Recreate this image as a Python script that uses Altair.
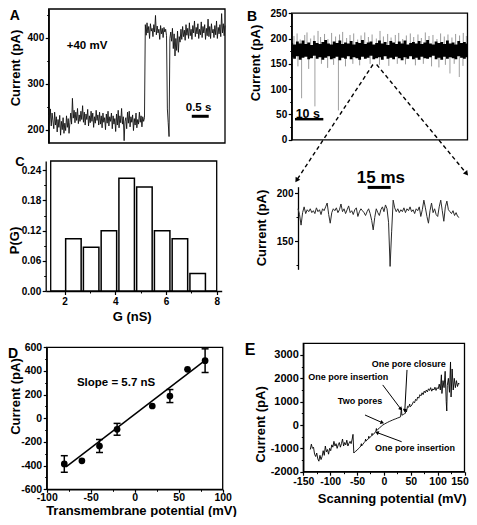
import altair as alt
import pandas as pd

FONT = "Liberation Sans"
W, H = 461, 509

# ======================= DATA =======================
# A: current record at +40 mV (pA), sampled every 0.025 s
a_t0, a_dt = 0.0, 0.025
a_current = [232, 214, 245, 208, 236, 219, 202, 238, 210, 228, 195, 222, 205, 231, 188, 218, 200, 226, 192, 214,
             198, 230, 205, 224, 192, 215, 236, 212, 268, 225, 242, 215, 238, 220, 246, 213, 232, 218, 240, 222,
             252, 216, 238, 210, 234, 222, 244, 208, 230, 215, 240, 218, 236, 205, 228, 214, 242, 220, 232, 210,
             238, 212, 230, 204, 236, 216, 226, 200, 234, 214, 240, 208, 228, 218, 236, 202, 230, 212, 224, 196,
             234, 210, 242, 204, 230, 215, 246, 212, 228, 176, 218, 226, 202, 238, 214, 240, 206, 228, 216, 232,
             198, 224, 210, 236, 204, 222, 212, 238, 216, 230, 206, 228, 218, 226,
             428, 405, 432, 410, 424, 398, 430, 414, 420, 402, 428, 412, 448, 406, 425, 410, 418, 396, 426, 408,
             420, 400, 422, 412, 418, 404,
             245, 215, 185, 398,
             412, 392, 420, 376, 408, 360, 398, 372, 414, 368, 402, 390, 418, 396, 424, 402, 416, 394, 428, 405,
             420, 398, 432, 404, 418, 396, 426, 410, 436, 402, 422, 408, 430, 398, 418, 406, 434, 400, 424, 410,
             428, 396, 420, 404, 440, 402, 424, 398, 430, 410, 418, 400, 426, 406, 436, 398, 422, 408, 428, 402,
             452, 410, 430, 404, 426]

# B: long record (s, pA)
b_band_t = list(range(0, 63))
b_band_hi = [191, 188, 194, 190, 196, 189, 192, 187, 195, 191, 189, 193, 197, 190, 188, 194, 191, 196, 189, 192,
             190, 195, 188, 193, 191, 197, 189, 192, 194, 188, 191, 196, 190, 193, 187, 195, 192, 189, 194, 190,
             196, 188, 191, 193, 190, 195, 189, 192, 197, 190, 188, 194, 191, 193, 189, 196, 190, 192, 188, 195,
             191, 193, 190]
b_band_lo = [163, 160, 165, 158, 162, 164, 159, 161, 166, 160, 163, 158, 162, 165, 159, 161, 164, 157, 162, 160,
             165, 159, 163, 161, 158, 164, 160, 162, 166, 159, 161, 163, 158, 165, 160, 162, 159, 164, 161, 157,
             163, 160, 165, 159, 162, 158, 164, 161, 160, 163, 166, 159, 162, 158, 164, 160, 163, 161, 159, 165,
             162, 160, 163]
b_up_t = [0.8, 1.9, 3.0, 4.6, 5.4, 6.7, 7.9, 9.3, 10.2, 11.6, 12.8, 14.1, 15.5, 16.9, 18.0, 19.4,
          20.6, 21.9, 23.3, 24.5, 25.8, 27.1, 28.4, 29.9, 31.2, 32.4, 33.9, 35.1, 36.6, 37.8, 39.2, 40.5,
          41.9, 43.1, 44.6, 45.8, 47.2, 48.5, 49.9, 51.3, 52.6, 53.9, 55.2, 56.6, 57.9, 59.3, 60.6, 61.7]
b_up_v = [205, 210, 198, 207, 212, 200, 206, 215, 203, 209, 199, 211, 204, 208, 213, 201,
          207, 210, 198, 206, 212, 203, 208, 200, 215, 204, 209, 202, 207, 211, 199, 206,
          210, 203, 208, 201, 212, 205, 207, 199, 210, 204, 208, 202, 209, 206, 211, 205]
b_dn_t = [2.2, 6.0, 10.5, 12.7, 14.8, 19.0, 21.6, 24.0, 27.7, 31.0, 34.3, 37.3, 40.2, 43.7, 46.5,
          49.4, 52.0, 54.3, 57.4, 60.5]
b_dn_v = [145, 140, 150, 142, 148, 145, 150, 147, 150, 148, 146, 150, 149, 147, 150,
          145, 143, 148, 150, 146]
b_long_t = [3.5, 8.2, 16.5, 55.9, 59.2]
b_long_v = [82, 66, 58, 131, 124]

# B (expanded): 1 ms sampling
b2_dt = 1.0
b2_current = [184, 178, 167, 180, 186, 179, 183, 181, 184, 180, 182, 179, 185, 181, 183, 178, 184, 182, 186, 190,
              178, 169, 180, 184, 182, 185, 180, 183, 189, 181, 184, 179, 183, 187, 180, 182, 178, 183, 185, 176,
              181, 184, 182, 180, 177, 181, 184, 179, 172, 162, 175, 184, 180, 177, 183, 186, 181, 188, 184, 170,
              124, 160, 193, 185, 181, 184, 180, 183, 181, 185, 180, 184, 182, 186, 181, 183, 179, 184, 182, 186,
              176, 183, 193, 185, 176, 169, 182, 190, 180, 184, 178, 176, 186, 193, 182, 171, 186, 192, 183, 181,
              179, 182, 177, 180, 176, 175]

# C: conductance histogram
c_g = [2.35, 3.05, 3.75, 4.45, 5.15, 5.85, 6.55, 7.25]
c_p = [0.104, 0.087, 0.120, 0.224, 0.207, 0.120, 0.104, 0.035]

# D: I-V relation
d_v = [-80, -60, -40, -20, 20, 40, 60, 80]
d_i = [-386, -359, -234, -93, 104, 188, 414, 487]
d_err = [70, 0, 55, 50, 0, 55, 0, 100]
d_fit_v = [-78, 80]
d_fit_i = [-411, 490]

# E: voltage ramp
e_mv = [-137, -135, -133, -131, -129, -127, -125, -123, -121, -119, -117, -115, -113, -111, -109, -107,
        -105, -103, -101, -99, -97, -95, -93, -91, -89, -87, -85, -83, -81, -79, -77, -75, -73, -71, -69,
        -67, -65, -63, -61, -59, -57.5, -56,
        -53, -50, -47, -45, -43, -42, -41.5, -39, -37, -35, -34, -33.5, -31, -29, -28, -27.5, -25, -23, -22,
        -21.5, -19, -17, -15, -14, -13.5, -11, -8, -5, -2, 1, 4, 7, 10, 13, 16, 19, 22, 25, 28, 31, 32.5,
        33.5, 36, 38, 40, 41, 42, 44, 46, 48, 49, 51, 53, 55, 57, 59, 61, 63, 65, 67, 69, 71, 73, 75, 77,
        79, 81, 83, 85, 87, 89, 91, 93, 95, 97, 99, 101, 103, 105, 107, 108, 110, 112, 114, 116, 117, 118,
        120, 122, 124, 125, 127, 129, 131, 133, 135, 137, 139, 140]
e_pa = [-1050, -820, -1000, -950, -1250, -1350, -1200, -1450, -1550, -1300, -1480, -1350, -1100, -1300, -900,
        -1150, -1050, -1250, -1000, -1100, -850, -950, -700, -900, -800, -1000, -850, -750, -950, -800, -600,
        -900, -750, -850, -650, -900, -780, -700, -800, -600, -400, -1200,
        -1130, -1080, -1000, -960, -900, -800, -900, -820, -760, -700, -600, -690, -640, -590, -480, -570,
        -510, -460, -360, -440, -390, -330, -270, -150, -240, -180, -120, -60, 0, 40, 80, 115, 150, 180, 210,
        240, 265, 295, 320, 350, 720, 420, 450, 480, 500, 640, 560, 800, 760, 900, 780, 820, 900, 1000, 950,
        1100, 1050, 1200, 1150, 1300, 1250, 1380, 1300, 1450, 1380, 1500, 1420, 1550, 1480, 1600, 1450, 1550,
        1500, 1620, 1480, 1600, 1550, 1750, 1500, 2150, 1350, 1900, 1600, 2300, 1000, 600, 1700, 2000, 1400,
        2700, 1200, 2400, 1500, 2000, 1600, 1900, 1650, 1800, 1750]
e_notes = ["One pore closure", "One pore insertion", "Two pores", "One pore insertion"]


# ======================= HELPERS =======================
def sc(dom, rng):
    return alt.Scale(domain=dom, range=rng, nice=False, zero=False)


def major_axis(orient, values, offset, title, tx, ty, lsize=10, tsize=13, fmt=None,
               nudge_value=None, nudge=0, tick=3.5, lpad=1.5):
    kw = dict(orient=orient, values=values, offset=offset, grid=False,
              domain=True, domainColor="black", domainWidth=1.3,
              ticks=True, tickSize=tick, tickWidth=1.2, tickColor="black",
              labels=True, labelFont=FONT, labelFontSize=lsize, labelFontWeight="bold",
              labelColor="black", labelPadding=lpad, labelOverlap=False, labelFlush=False,
              title=title, titleX=tx, titleY=ty, titleFont=FONT, titleFontSize=tsize,
              titleFontWeight="bold", titleColor="black", titleAlign="center",
              titleBaseline="middle", titleAngle=270 if orient == "left" else 0)
    if fmt:
        kw["format"] = fmt
    else:
        kw["labelExpr"] = "'' + datum.value"
    if nudge_value is not None:
        kw["labelOffset"] = {"condition": {"test": f"datum.value == {nudge_value}", "value": nudge},
                             "value": 0}
    return alt.Axis(**kw)


def minor_axis(orient, values, offset):
    return alt.Axis(orient=orient, values=values, offset=offset, grid=False, domain=False,
                    labels=False, ticks=True, tickSize=2, tickWidth=1.0, tickColor="black",
                    title=None)


def frame(xdom, ydom, xs, ys, xaxis=None, yaxis=None, visible=True):
    return alt.Chart(pd.DataFrame({"k": [0]})).mark_rect(
        filled=False, color="black", strokeWidth=1.3, opacity=1 if visible else 0
    ).encode(
        x=alt.XDatum(xdom[0], scale=xs, axis=xaxis, type="quantitative"),
        x2=alt.X2Datum(xdom[1]),
        y=alt.YDatum(ydom[0], scale=ys, axis=yaxis, type="quantitative"),
        y2=alt.Y2Datum(ydom[1]),
    )


def texts(xv, yv, labels, xs, ys, size, align="center"):
    df = pd.DataFrame({"x": xv, "y": yv, "label": labels})
    return alt.Chart(df).mark_text(font=FONT, fontSize=size, fontWeight="bold", align=align,
                                   baseline="middle", color="black").encode(
        x=alt.X("x", type="quantitative", scale=xs, axis=None),
        y=alt.Y("y", type="quantitative", scale=ys, axis=None),
        text="label:N")


def hbar(x0, x1, y, xs, ys, width):
    df = pd.DataFrame({"x": [x0], "x2": [x1], "y": [y]})
    return alt.Chart(df).mark_rule(color="black", strokeWidth=width).encode(
        x=alt.X("x", type="quantitative", scale=xs, axis=None), x2="x2",
        y=alt.Y("y", type="quantitative", scale=ys, axis=None))


def arrows(x0, y0, x1, y1, ang, xs, ys, width, head, dash=None):
    df = pd.DataFrame({"x": x0, "y": y0, "x2": x1, "y2": y1, "ang": ang})
    kw = dict(color="black", strokeWidth=width)
    if dash:
        kw["strokeDash"] = dash
    lines = alt.Chart(df).mark_rule(**kw).encode(
        x=alt.X("x", type="quantitative", scale=xs, axis=None), x2="x2",
        y=alt.Y("y", type="quantitative", scale=ys, axis=None), y2="y2")
    heads = alt.Chart(df).mark_point(shape="triangle", filled=True, size=head, color="black",
                                     opacity=1).encode(
        x=alt.X("x2", type="quantitative", scale=xs, axis=None),
        y=alt.Y("y2", type="quantitative", scale=ys, axis=None),
        angle=alt.Angle("ang", type="quantitative", scale=None))
    return [lines, heads]


# ======================= PANEL A =======================
AXD, AYD = [0, 5.2], [171, 462]
AX, AY = sc(AXD, [40.7, 217]), sc(AYD, [135, 1])
a_df = pd.DataFrame({"t": [a_t0 + i * a_dt for i in range(len(a_current))], "i": a_current})
a_trace = alt.Chart(a_df).mark_line(color="#111111", strokeWidth=0.9).encode(
    x=alt.X("t", type="quantitative", scale=AX, axis=None),
    y=alt.Y("i", type="quantitative", scale=AY,
            axis=major_axis("left", [200, 300, 400], -40.7, "Current (pA)", -33.7, 59.5)))
panelA = alt.layer(
    frame(AXD, AYD, AX, AY, None, minor_axis("left", [250, 350, 450], -40.7)),
    a_trace,
    texts([1.13, 4.42], [382, 248], ["+40 mV", "0.5 s"], AX, AY, 11.5),
    texts([-0.996], [446.8], ["A"], AX, AY, 14),
    hbar(4.22, 4.72, 229, AX, AY, 3),
).resolve_axis(y="independent")

# ======================= PANEL B =======================
BXD, BYD = [0, 62.1], [0, 250]
BX, BY = sc(BXD, [283.7, 459.5]), sc(BYD, [131.8, 5.2])
spk_up = pd.DataFrame({"t": b_up_t, "v": b_up_v, "b": [176] * len(b_up_t)})
spk_dn = pd.DataFrame({"t": b_dn_t, "v": b_dn_v, "b": [170] * len(b_dn_t)})
spk_long = pd.DataFrame({"t": b_long_t, "v": b_long_v, "b": [165] * len(b_long_t)})


def spikes(df, color, width):
    return alt.Chart(df).mark_rule(color=color, strokeWidth=width).encode(
        x=alt.X("t", type="quantitative", scale=BX, axis=None),
        y=alt.Y("b", type="quantitative", scale=BY, axis=None), y2="v")


band = alt.Chart(pd.DataFrame({"t": b_band_t, "lo": b_band_lo, "hi": b_band_hi})).mark_area(
    color="black", opacity=1, interpolate="step").encode(
    x=alt.X("t", type="quantitative", scale=BX, axis=None),
    y=alt.Y("lo", type="quantitative", scale=BY,
            axis=major_axis("left", [0, 50, 100, 150, 200, 250], -283.7, "Current (pA)", -36.7, 54.5)),
    y2="hi")
panelB = alt.layer(
    frame(BXD, BYD, BX, BY, None, minor_axis("left", [25, 75, 125, 175, 225], -283.7)),
    spikes(spk_up, "#808080", 0.8),
    spikes(spk_dn, "#808080", 0.8),
    spikes(spk_long, "#a0a0a0", 1.0),
    band,
    texts([5.69], [51.9], ["10 s"], BX, BY, 12.5),
    texts([-14.0], [243], ["B"], BX, BY, 14),
    hbar(1.17, 11.17, 40.7, BX, BY, 2.5),
    *arrows([28.7, 30.0], [148.7, 148.7], [1.9, 61.6], [-78.4, -65.6], [213, 141], BX, BY, 1.4, 30,
            dash=[4, 3]),
).resolve_axis(y="independent")

# ======================= PANEL B (expanded) =======================
B2XD, B2YD = [0, 106], [121, 207]
B2X, B2Y = sc(B2XD, [290, 452.7]), sc(B2YD, [261.3, 178.7])
b2_df = pd.DataFrame({"t": [i * b2_dt for i in range(len(b2_current))], "i": b2_current})
b2_trace = alt.Chart(b2_df).mark_line(color="#2a2a2a", strokeWidth=1.0).encode(
    x=alt.X("t", type="quantitative", scale=B2X, axis=None),
    y=alt.Y("i", type="quantitative", scale=B2Y,
            axis=major_axis("left", [150, 200], -290, "Current (pA)", -36.3, 219.5)))
panelB2 = alt.layer(
    frame(B2XD, B2YD, B2X, B2Y, None, minor_axis("left", [125, 175], -290), visible=False),
    b2_trace,
    texts([54], [215.6], ["15 ms"], B2X, B2Y, 17),
    hbar(45.4, 60.4, 206.25, B2X, B2Y, 3),
).resolve_axis(y="independent")

# ======================= PANEL C =======================
CXD, CYD = [1.455, 8], [0, 0.2585]
CX, CY = sc(CXD, [37.7, 213.7]), sc(CYD, [283, 153])
c_bars = alt.Chart(pd.DataFrame({"g": c_g, "p": c_p})).mark_bar(
    size=15.5, fill="white", stroke="black", strokeWidth=1.5).encode(
    x=alt.X("g", type="quantitative", scale=CX,
            axis=major_axis("bottom", [2, 4, 6, 8], -226, "G (nS)", 123.7, 25.7)),
    y=alt.Y("p", type="quantitative", scale=CY,
            axis=major_axis("left", [0, 0.06, 0.12, 0.18, 0.24], -37.7, "P(G)", -31.7, 232, fmt=".2f")))
panelC = alt.layer(
    frame(CXD, CYD, CX, CY, minor_axis("bottom", [3, 5, 7], -226),
          minor_axis("left", [0.03, 0.09, 0.15, 0.21], -37.7)),
    c_bars,
    texts([0.24], [0.2563], ["C"], CX, CY, 13),
).resolve_axis(x="independent", y="independent")

# ======================= PANEL D =======================
DXD, DYD = [-100, 100], [-600, 600]
DX, DY = sc(DXD, [38.7, 214.7]), sc(DYD, [481.3, 339.3])
d_df = pd.DataFrame({"v": d_v, "i": d_i, "lo": [a - b for a, b in zip(d_i, d_err)],
                     "hi": [a + b for a, b in zip(d_i, d_err)], "e": d_err})
d_err_df = d_df[d_df["e"] > 0]
d_pts = alt.Chart(d_df).mark_circle(size=45, color="black", opacity=1).encode(
    x=alt.X("v", type="quantitative", scale=DX,
            axis=major_axis("bottom", [-100, -50, 0, 50, 100], -27.7, "Transmembrane potential (mV)",
                            133, 21.5, lsize=10.5, tick=3, lpad=0.5)),
    y=alt.Y("i", type="quantitative", scale=DY,
            axis=major_axis("left", [-600, -400, -200, 0, 200, 400, 600], -38.7, "Current (pA)",
                            -31.7, 388, lsize=10.5)))
d_bars = alt.Chart(d_err_df).mark_rule(color="black", strokeWidth=1.5).encode(
    x=alt.X("v", type="quantitative", scale=DX, axis=None),
    y=alt.Y("lo", type="quantitative", scale=DY, axis=None), y2="hi")
d_caps_lo = alt.Chart(d_err_df).mark_tick(orient="horizontal", size=7, thickness=1.5, color="black",
                                          opacity=1).encode(
    x=alt.X("v", type="quantitative", scale=DX, axis=None),
    y=alt.Y("lo", type="quantitative", scale=DY, axis=None))
d_caps_hi = alt.Chart(d_err_df).mark_tick(orient="horizontal", size=7, thickness=1.5, color="black",
                                          opacity=1).encode(
    x=alt.X("v", type="quantitative", scale=DX, axis=None),
    y=alt.Y("hi", type="quantitative", scale=DY, axis=None))
d_fit = alt.Chart(pd.DataFrame({"v": d_fit_v, "i": d_fit_i})).mark_line(
    color="black", strokeWidth=1.5).encode(
    x=alt.X("v", type="quantitative", scale=DX, axis=None),
    y=alt.Y("i", type="quantitative", scale=DY, axis=None))
panelD = alt.layer(
    frame(DXD, DYD, DX, DY, minor_axis("bottom", [-75, -25, 25, 75], -27.7),
          minor_axis("left", [-500, -300, -100, 100, 300, 500], -38.7)),
    d_fit, d_bars, d_caps_lo, d_caps_hi, d_pts,
    texts([-21.2], [296], ["Slope = 5.7 nS"], DX, DY, 11.5),
    texts([-138.3], [543], ["D"], DX, DY, 14),
).resolve_axis(x="independent", y="independent")

# ======================= PANEL E =======================
EXD, EYD = [-150, 150], [-2000, 3500]
EX, EY = sc(EXD, [295.3, 456.5]), sc(EYD, [463.7, 335.3])
e_trace = alt.Chart(pd.DataFrame({"v": e_mv, "i": e_pa})).mark_line(
    color="black", strokeWidth=0.9).encode(
    x=alt.X("v", type="quantitative", scale=EX,
            axis=major_axis("bottom", [-150, -100, -50, 0, 50, 100, 150], -45.3,
                            "Scanning potential (mV)", 383.7, 26.3, lsize=10.5,
                            nudge_value=150, nudge=-5)),
    y=alt.Y("i", type="quantitative", scale=EY,
            axis=major_axis("left", [-2000, -1000, 0, 1000, 2000, 3000], -295.3, "Current (pA)",
                            -43.3, 416, lsize=11)))
panelE = alt.layer(
    frame(EXD, EYD, EX, EY, minor_axis("bottom", [-125, -75, -25, 25, 75, 125], -45.3),
          minor_axis("left", [-1500, -500, 500, 1500, 2500], -295.3)),
    e_trace,
    texts([46.2, -66.2, -44.5, 57.9], [2605, 2073, 1030, -1000], e_notes, EX, EY, 9),
    *arrows([43, -2.2, -35.2, 33.1], [2360, 1717, 429, -717], [39, 31, -4, -12], [640, 700, 110, -330],
            [183, 140, 112, 291], EX, EY, 1.0, 18),
    texts([-249.2], [3192], ["E"], EX, EY, 16),
).resolve_axis(x="independent", y="independent")

chart = alt.layer(panelA, panelB, panelB2, panelC, panelD, panelE).resolve_scale(
    x="independent", y="independent").resolve_axis(x="independent", y="independent").properties(
    width=W, height=H, autosize=alt.AutoSizeParams(type="none"), padding=0
).configure_view(strokeWidth=0)

chart.save("out.html", embed_options={"renderer": "svg", "actions": False})
